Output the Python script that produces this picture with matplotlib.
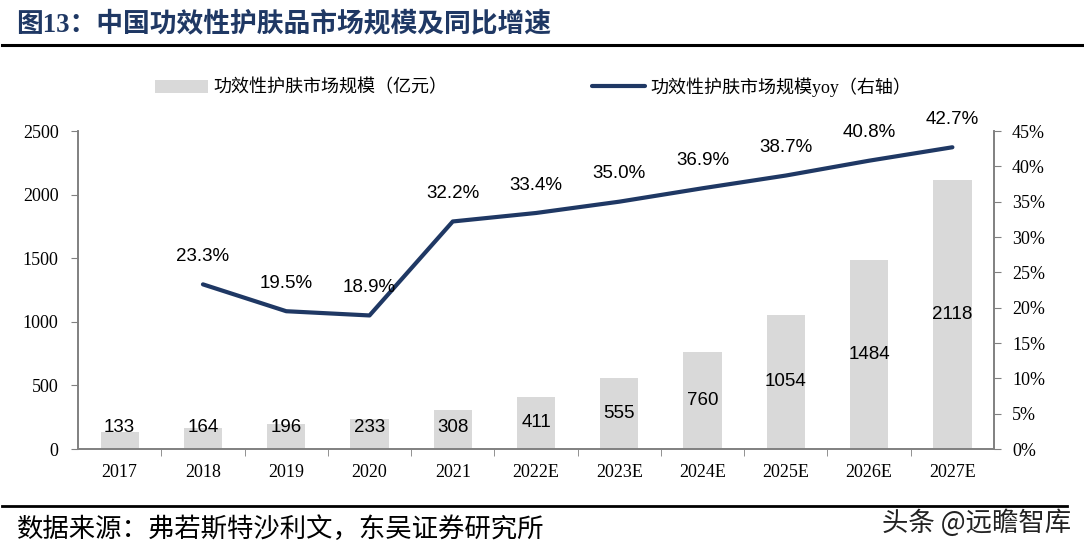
import numpy as np
import matplotlib
matplotlib.use('Agg')
import matplotlib.pyplot as plt
from matplotlib.lines import Line2D
from matplotlib.ticker import PercentFormatter, FixedLocator

# 数据
years = ['2017', '2018', '2019', '2020', '2021', '2022E', '2023E',
         '2024E', '2025E', '2026E', '2027E']
market_size = [133, 164, 196, 233, 308, 411, 555, 760, 1054, 1484, 2118]
market_yoy = [np.nan, 23.3, 19.5, 18.9, 32.2, 33.4, 35.0, 36.9, 38.7, 40.8, 42.7]

BAR_COLOR = '#d9d9d9'
LINE_COLOR = '#1f3864'
AXIS_COLOR = '#808080'

SERIF = ['Liberation Serif', 'Noto Sans CJK SC']
SANS = ['Liberation Sans', 'DejaVu Sans']
CJK = ['Noto Sans CJK SC', 'DejaVu Sans']

plt.rcParams['font.family'] = SERIF

fig = plt.figure(figsize=(10.84, 5.5), dpi=100)
ax = fig.add_axes([0.072, 0.1836, 0.845, 0.5782])
ax2 = ax.twinx()

x = np.arange(len(years))

# 柱状图：市场规模
bars = ax.bar(x, market_size, width=0.46, color=BAR_COLOR, zorder=2,
              label='功效性护肤市场规模（亿元）')
for i, v in enumerate(market_size):
    ax.text(i, max(v / 2, 172), str(v), ha='center', va='center',
            fontsize=13.5, family=SANS, color='black', zorder=3)

# 折线：同比增速
line, = ax2.plot(x, market_yoy, color=LINE_COLOR, lw=3, solid_capstyle='round',
                 solid_joinstyle='round', label='功效性护肤市场规模yoy（右轴）')
for i, v in enumerate(market_yoy):
    if np.isnan(v):
        continue
    ax2.annotate(f'{v:.1f}%', (i, v), xytext=(0, 20), textcoords='offset points',
                 ha='center', va='center', fontsize=13.5, family=SANS)

# 坐标轴
ax.set_xlim(-0.5, len(years) - 0.5)
ax.set_ylim(0, 2500)
ax.set_yticks(np.arange(0, 2501, 500))
ax2.set_ylim(0, 45)
ax2.set_yticks(np.arange(0, 46, 5))
ax2.yaxis.set_major_formatter(PercentFormatter(decimals=0))

ax.set_xticks(x)
ax.set_xticklabels(years)
ax.xaxis.set_minor_locator(FixedLocator(np.arange(0.5, len(years) - 1, 1)))
ax.tick_params(axis='x', which='major', length=0, pad=11, labelsize=13)
ax.tick_params(axis='x', which='minor', length=5, direction='out', color=AXIS_COLOR)
ax.tick_params(axis='y', length=5, direction='out', color=AXIS_COLOR, pad=9, labelsize=13)
ax2.tick_params(axis='y', length=5, direction='out', color=AXIS_COLOR, pad=8, labelsize=13)

for a in (ax, ax2):
    a.spines['top'].set_visible(False)
    for s in ('left', 'right', 'bottom'):
        a.spines[s].set_color(AXIS_COLOR)
        a.spines[s].set_linewidth(1.2)

# 图例
leg = fig.legend(handles=[bars, line], loc='center', bbox_to_anchor=(0.4917, 0.842),
                 ncol=2, frameon=False, prop={'family': SERIF, 'size': 13},
                 handlelength=2.95, handleheight=0.8, handletextpad=0.3,
                 columnspacing=8.0)

# 标题与来源
fig.text(0.0148, 0.956, '图13：中国功效性护肤品市场规模及同比增速', fontsize=19.3,
         fontweight='bold', color=LINE_COLOR, va='center', family=SERIF)
fig.add_artist(Line2D([0.002, 0.998], [0.918, 0.918], transform=fig.transFigure,
                      color='black', lw=2.2))
fig.add_artist(Line2D([0.002, 0.984], [0.08, 0.08], transform=fig.transFigure,
                      color='black', lw=2))
fig.text(0.016, 0.038, '数据来源：弗若斯特沙利文，东吴证券研究所', fontsize=19,
         va='center', family=CJK)
fig.text(0.988, 0.049, '头条 @远瞻智库', fontsize=19, ha='right', va='center',
         color='#222222', family=CJK)

fig.savefig('out.png', dpi=100)
